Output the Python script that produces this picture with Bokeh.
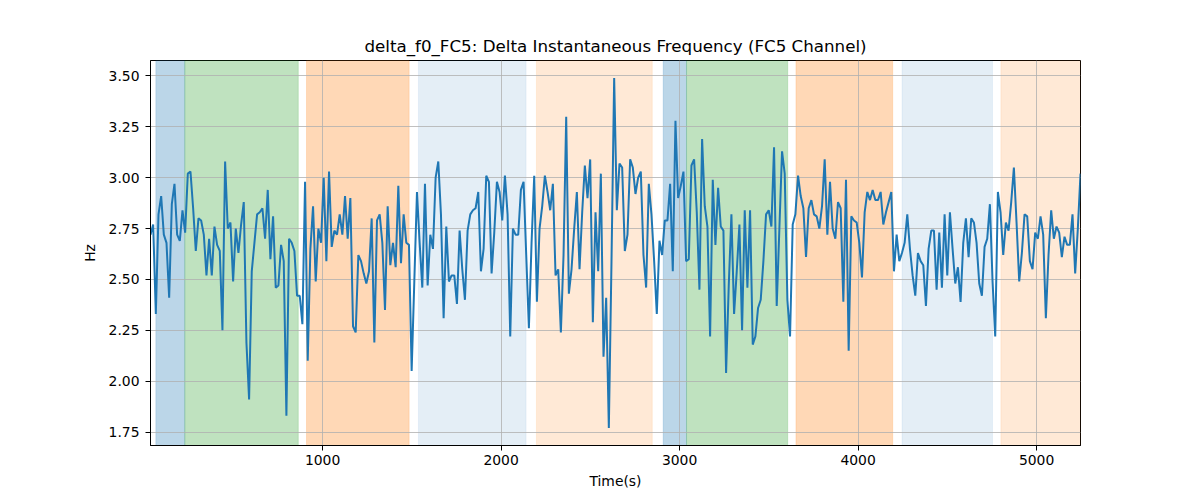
#===========================
#       Bokeh-Related Imports
from bokeh.embed import file_html
from bokeh.resources import INLINE
from bokeh.models import (ColumnDataSource, BoxAnnotation, FixedTicker,
                          NumeralTickFormatter, Range1d)
from bokeh.plotting import figure

T_START = 36
T_END = 5246

hz = [
    # segment 1
    2.72, 2.77, 2.33, 2.82, 2.91, 2.72, 2.68, 2.41, 2.87, 2.97,
    2.72, 2.69, 2.84, 2.73, 3.02, 3.03, 2.85, 2.64, 2.80, 2.79,
    2.72, 2.52, 2.70, 2.52, 2.76, 2.67, 2.64, 2.25, 3.08, 2.75,
    2.78, 2.49, 2.75, 2.63, 2.77, 2.88, 2.19, 1.91, 2.54, 2.68,
    2.82, 2.83, 2.85, 2.70, 2.94, 2.60, 2.81, 2.46, 2.47, 2.67,
    2.59, 1.83, 2.70, 2.68, 2.64, 2.42, 2.42, 2.28, 2.98, 2.10,
    2.65, 2.86, 2.49, 2.75, 2.68, 3.00, 2.59, 3.03, 2.66, 2.74,
    2.72, 2.82, 2.72, 2.91, 2.70, 2.90, 2.27, 2.24, 2.62, 2.59,
    2.53, 2.48, 2.54, 2.80, 2.19, 2.79, 2.82,
    # segment 2
    2.68, 2.35, 2.86, 2.57, 2.68, 2.56, 2.96, 2.58, 2.82, 2.68,
    2.67, 2.05, 2.49, 2.93, 2.68, 2.46, 2.97, 2.47, 2.72, 2.65,
    3.00, 3.08, 2.82, 2.31, 2.76, 2.49, 2.52, 2.52, 2.38, 2.74,
    2.55, 2.40, 2.74, 2.82, 2.84, 2.85, 2.93, 2.54, 2.65, 3.01,
    2.98, 2.53, 2.73, 2.98, 2.93, 2.79, 3.01, 2.82, 2.22, 2.75,
    2.72, 2.72, 2.94, 2.98, 2.62, 2.26, 2.68, 3.01, 2.39, 2.75,
    2.86, 3.01, 2.93, 2.84, 2.97, 2.52, 2.55, 2.24, 2.62, 3.30,
    2.43, 2.55, 2.75, 2.93, 2.55, 2.83, 3.06, 2.90, 3.09, 2.29,
    2.83, 2.54, 3.02, 2.12, 2.41, 1.77,
    # segment 3
    2.59, 3.49, 2.84, 3.07, 3.05, 2.64, 2.72, 3.09, 3.05, 2.92,
    3.00, 3.03, 2.62, 2.46, 2.97, 2.82, 2.59, 2.33, 2.69, 2.62,
    2.79, 2.79, 2.97, 2.54, 3.28, 2.90, 2.96, 3.03, 2.59, 2.60,
    3.06, 3.09, 2.83, 2.45, 3.19, 2.86, 2.76, 2.22, 2.99, 2.67,
    2.95, 2.76, 2.74, 2.04, 2.47, 2.82, 2.33, 2.54, 2.77, 2.25,
    2.84, 2.46, 2.84, 2.18, 2.22, 2.36, 2.40, 2.59, 2.82, 2.84,
    2.76, 3.15, 2.37, 2.75, 3.13, 3.02, 2.40, 2.22, 2.77, 2.82,
    3.01, 2.91, 2.85, 2.61, 2.85, 2.89, 2.82, 2.81, 2.75, 2.86,
    3.09, 2.72, 2.98, 2.75, 2.70, 2.88,
    # segment 4
    2.85, 2.39, 2.99, 2.15, 2.81, 2.79, 2.78, 2.68, 2.51, 2.83,
    2.93, 2.89, 2.94, 2.89, 2.89, 2.93, 2.77, 2.83, 2.88, 2.93,
    2.54, 2.72, 2.59, 2.63, 2.68, 2.82, 2.65, 2.52, 2.42, 2.63,
    2.59, 2.57, 2.37, 2.65, 2.74, 2.74, 2.45, 2.73, 2.46, 2.82,
    2.52, 2.83, 2.65, 2.48, 2.56, 2.39, 2.68, 2.80, 2.61, 2.80,
    2.78, 2.68, 2.48, 2.42, 2.66, 2.70, 2.87, 2.49, 2.22, 2.93,
    2.83, 2.62, 2.78, 2.74, 2.88, 3.05, 2.78, 2.49, 2.63, 2.82,
    2.81, 2.59, 2.55, 2.73, 2.70, 2.81, 2.72, 2.31, 2.62, 2.84,
    2.70, 2.76, 2.73, 2.61, 2.71, 2.67, 2.67, 2.82, 2.53, 2.75,
    3.02,
]

#-- shaded segments (start, end in seconds)
band_start = [66, 228, 910, 1537, 2198, 2908, 3039, 3652, 4246, 4800]
band_end = [228, 864, 1485, 2140, 2847, 3039, 3606, 4194, 4753, 5300]
band_color = ["#1f77b4", "#2ca02c", "#ff7f0e", "#1f77b4", "#ff7f0e",
              "#1f77b4", "#2ca02c", "#ff7f0e", "#1f77b4", "#ff7f0e"]
band_alpha = [0.3, 0.3, 0.3, 0.12, 0.17, 0.3, 0.3, 0.3, 0.12, 0.17]

x_ticks = [1000, 2000, 3000, 4000, 5000]
y_ticks = [1.75, 2.00, 2.25, 2.50, 2.75, 3.00, 3.25, 3.50]

FONT = "DejaVu Sans"


def get_bokeh_figure():
    n = len(hz)
    step = (T_END - T_START) / (n - 1)
    times = [T_START + i * step for i in range(n)]
    source = ColumnDataSource(data=dict(time=times, hz=hz))

    span = max(hz) - min(hz)
    p = figure(
        width=1200,
        height=500,
        output_backend="svg",
        toolbar_location=None,
        x_range=Range1d(T_START, T_END),
        y_range=Range1d(min(hz) - 0.05 * span, max(hz) + 0.05 * span),
        min_border_left=150,
        min_border_right=120,
        min_border_top=60,
        min_border_bottom=55,
        title="delta_f0_FC5: Delta Instantaneous Frequency (FC5 Channel)",
    )

    #-- background segments, under the grid
    for s, e, c, a in zip(band_start, band_end, band_color, band_alpha):
        p.add_layout(BoxAnnotation(left=s, right=e, fill_color=c, fill_alpha=a,
                                   line_color=c, line_alpha=a * 0.6,
                                   level="image"))

    p.line(x="time", y="hz", source=source, line_color="#1f77b4", line_width=2)

    p = _set_plot_axes(p)
    return p


def _set_plot_axes(p):
    p.title.align = "center"
    p.title.text_font = FONT
    p.title.text_font_size = "16.7px"
    p.title.text_font_style = "normal"
    p.title.text_color = "black"

    p.outline_line_color = "black"
    p.outline_line_alpha = 1
    p.outline_line_width = 1

    p.xaxis.ticker = FixedTicker(ticks=x_ticks)
    p.yaxis.ticker = FixedTicker(ticks=y_ticks)
    p.yaxis.formatter = NumeralTickFormatter(format="0.00")

    for ax in (p.xaxis, p.yaxis):
        ax.major_label_text_font = FONT
        ax.major_label_text_font_size = "13.9px"
        ax.major_label_text_color = "black"
        ax.axis_label_text_font = FONT
        ax.axis_label_text_font_size = "13.9px"
        ax.axis_label_text_font_style = "normal"
        ax.axis_label_text_color = "black"
        ax.minor_tick_line_color = None
        ax.major_tick_in = 0
        ax.major_tick_out = 5
        ax.major_tick_line_color = "black"
        ax.axis_line_color = "black"

    p.xaxis.axis_label = "Time(s)"
    p.yaxis.axis_label = "Hz"
    p.xaxis.major_label_standoff = 4
    p.yaxis.major_label_standoff = 6
    p.xaxis.axis_label_standoff = 5
    p.yaxis.axis_label_standoff = 8

    p.grid.grid_line_color = "#b0b0b0"
    p.grid.grid_line_width = 0.8
    return p


plot = get_bokeh_figure()
open("out.html", "w").write(file_html(plot, INLINE))
